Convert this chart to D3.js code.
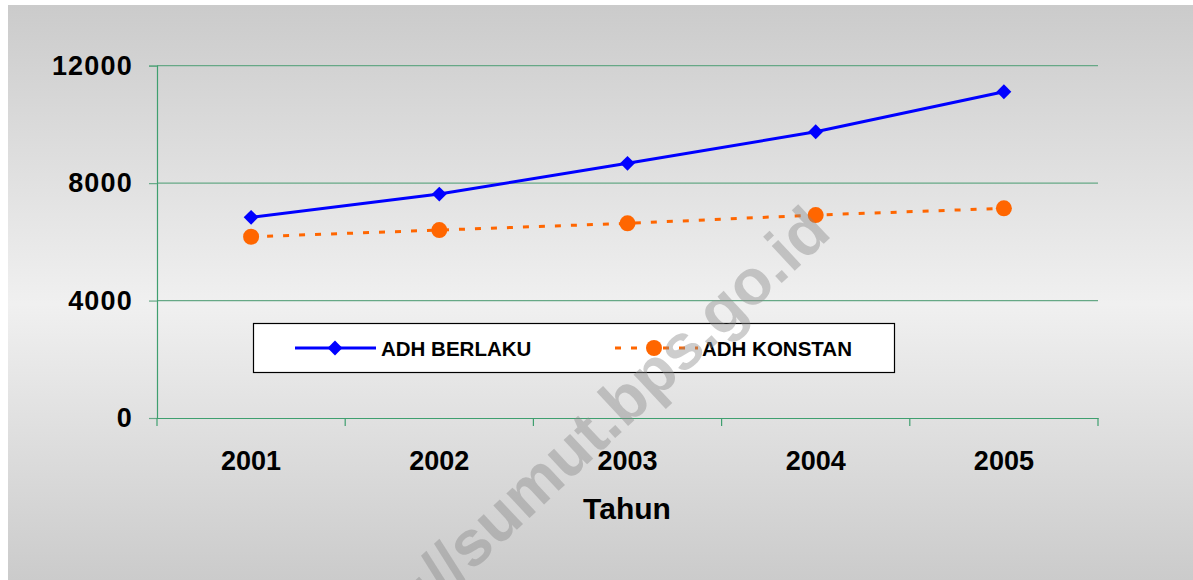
<!DOCTYPE html>
<html><head><meta charset="utf-8">
<script src="https://cdnjs.cloudflare.com/ajax/libs/d3/7.8.5/d3.min.js"></script>
<style>html,body{margin:0;padding:0;background:#fff;}svg{display:block;}</style>
</head><body><svg id="c" width="1193" height="580"></svg>
<script>
const years = ["2001","2002","2003","2004","2005"];
const berlaku = [6835, 7628, 8674, 9751, 11114];
const konstan = [6173, 6402, 6630, 6913, 7141];
const yTicks = [0, 4000, 8000, 12000];
const seriesNames = ["ADH BERLAKU", "ADH KONSTAN"];
const xTitle = "Tahun";
const watermark = "http://sumut.bps.go.id";

const svg = d3.select("#c");
const font = "'Liberation Sans', Arial, sans-serif";

const defs = svg.append("defs");
const g = defs.append("linearGradient").attr("id","bg").attr("x1",0).attr("y1",0).attr("x2",0).attr("y2",1);
g.append("stop").attr("offset","0").attr("stop-color","#cbcbcb");
g.append("stop").attr("offset","0.52").attr("stop-color","#f0f0f0");
g.append("stop").attr("offset","1").attr("stop-color","#cbcbcb");
svg.append("rect").attr("x",8).attr("y",5).attr("width",1185).attr("height",575).attr("fill","url(#bg)");

const x = d3.scaleBand().domain(years).range([157,1098]);
const y = d3.scaleLinear().domain([0,12000]).range([418,65.7]);

// gridlines
svg.append("g").selectAll("line").data(yTicks.filter(d=>d>0)).join("line")
  .attr("x1",157).attr("x2",1098).attr("y1",d=>y(d)).attr("y2",d=>y(d))
  .attr("stroke","#66a886").attr("stroke-width",1.2);

// y axis
const ya = svg.append("g").attr("transform","translate(157,0)")
  .call(d3.axisLeft(y).tickValues(yTicks).tickSize(8).tickPadding(16).tickFormat(d3.format("d")));
ya.select(".domain").attr("stroke","#3f9f6f").attr("stroke-width",1.2);
ya.selectAll(".tick line").attr("stroke","#66a886").attr("stroke-width",1.2);
ya.selectAll(".tick text").attr("font-family",font).attr("font-weight","bold").attr("font-size",27)
  .attr("letter-spacing",1.2).attr("fill","#000");

// x axis
const xa = svg.append("g").attr("transform","translate(0,418)")
  .call(d3.axisBottom(x).tickSize(0).tickPadding(33));
xa.select(".domain").attr("stroke","#3f9f6f").attr("stroke-width",1.2);
xa.selectAll(".tick text").attr("font-family",font).attr("font-weight","bold").attr("font-size",27).attr("fill","#000");
// boundary ticks
const bounds = years.map(d=>x(d)).concat([x(years[years.length-1])+x.bandwidth()]);
xa.append("g").selectAll("line").data(bounds).join("line")
  .attr("x1",d=>d).attr("x2",d=>d).attr("y1",0).attr("y2",8)
  .attr("stroke","#3f9f6f").attr("stroke-width",1.2);

svg.append("text").attr("x",627).attr("y",519).attr("text-anchor","middle")
  .attr("font-family",font).attr("font-weight","bold").attr("font-size",30).text(xTitle);

const cx = d => x(d) + x.bandwidth()/2;
const line = d3.line().x((d,i)=>cx(years[i])).y(d=>y(d));

svg.append("path").datum(berlaku).attr("d",line).attr("fill","none").attr("stroke","#0000ff").attr("stroke-width",3);
svg.append("path").datum(konstan).attr("d",line).attr("fill","none").attr("stroke","#ff6600").attr("stroke-width",3).attr("stroke-dasharray","6,10");

const diamond = d3.symbol().type(d3.symbolSquare).size(110);
svg.append("g").selectAll("path").data(berlaku).join("path")
  .attr("d",diamond()).attr("transform",(d,i)=>`translate(${cx(years[i])},${y(d)}) rotate(45)`).attr("fill","#0000ff");
svg.append("g").selectAll("circle").data(konstan).join("circle")
  .attr("cx",(d,i)=>cx(years[i])).attr("cy",d=>y(d)).attr("r",8).attr("fill","#ff6600");

// legend
const lg = svg.append("g");
lg.append("rect").attr("x",253.5).attr("y",323.5).attr("width",641).attr("height",49).attr("fill","#fff").attr("stroke","#000").attr("stroke-width",1.2);
const ly = 348;
lg.append("line").attr("x1",295).attr("x2",376).attr("y1",ly).attr("y2",ly).attr("stroke","#0000ff").attr("stroke-width",3);
lg.append("path").attr("d",diamond()).attr("transform",`translate(335,${ly}) rotate(45)`).attr("fill","#0000ff");
lg.append("text").attr("x",381).attr("y",ly+7.5).attr("font-family",font).attr("font-weight","bold").attr("font-size",20.5).text(seriesNames[0]);
lg.append("line").attr("x1",615).attr("x2",698).attr("y1",ly).attr("y2",ly).attr("stroke","#ff6600").attr("stroke-width",3).attr("stroke-dasharray","6,10");
lg.append("circle").attr("cx",654).attr("cy",ly).attr("r",8).attr("fill","#ff6600");
lg.append("text").attr("x",702).attr("y",ly+7.5).attr("font-family",font).attr("font-weight","bold").attr("font-size",20.5).text(seriesNames[1]);

// watermark
svg.append("text").attr("transform","translate(833,235) rotate(-43)").attr("text-anchor","end")
  .attr("font-family",font).attr("font-weight","bold").attr("font-size",64)
  .attr("fill","#888").attr("fill-opacity",0.42).text(watermark);
</script></body></html>
